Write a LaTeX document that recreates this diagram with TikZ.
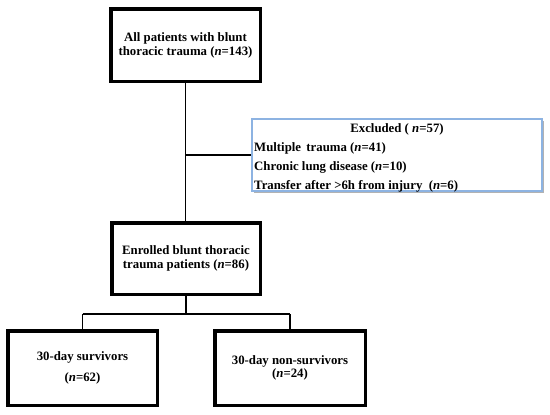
\documentclass[tikz,border=0pt]{standalone}
\usepackage{fontspec}
\setmainfont{Liberation Serif}
\usetikzlibrary{shadows}
\newcommand\myn{\textit{n}}
\definecolor{exblue}{RGB}{141,179,226}
\begin{document}
\begin{tikzpicture}[x=1pt,y=-1pt,
  txt/.style={font=\bfseries\fontsize{12.8}{14}\selectfont},
  box/.style={draw=black,line width=3.5pt,fill=white,align=center,inner sep=0pt,
    txt,drop shadow={shadow xshift=1.5pt,shadow yshift=-1.8pt,fill=black,opacity=0.35}},
  exbox/.style={draw=exblue,line width=2pt,fill=white,inner sep=0pt,
    drop shadow={shadow xshift=1.5pt,shadow yshift=-1.8pt,fill=black,opacity=0.3}},
  conn/.style={draw=black,line width=1.8pt}]
\useasboundingbox (0,0) rectangle (550,415);
\node[box,minimum width=149.5pt,minimum height=72.5pt] (top) at (185.5,45)
  {All patients with blunt\\thoracic trauma (\myn=143)};
\node[box,minimum width=148.5pt,minimum height=71.5pt] (enr) at (186,258.5)
  {Enrolled blunt thoracic\\trauma patients (\myn=86)};
\node[box,minimum width=149.5pt,minimum height=74.5pt] (surv) at (82.5,368)
  {30-day survivors\\[7pt](\myn=62)};
\node[box,minimum width=150.5pt,minimum height=74.5pt] (nons) at (290,368)
  {30-day non-survivors\\[-1pt](\myn=24)};
\node[exbox,minimum width=290pt,minimum height=72pt] (excl) at (397,155) {};
\node[txt,anchor=base] (extitle) at (397,132) {Excluded ( \myn=57)};
\node[txt,anchor=base west,inner sep=0pt] (ex1) at (254,151) {Multiple\, trauma (\myn=41)};
\node[txt,anchor=base west,inner sep=0pt] (ex2) at (254,170) {Chronic lung disease (\myn=10)};
\node[txt,anchor=base west,inner sep=0pt] (ex3) at (254,189) {Transfer after >6h from injury\ \ (\myn=6)};
\coordinate (br) at (top.south |- excl.west);
\coordinate (split) at (enr.south |- 0,314);
\coordinate (sl) at (surv.north |- split);
\coordinate (sr) at (nons.north |- split);
\path[conn] (top.south) -- (top.south |- enr.north);
\path[conn] (br) -- (excl.west);
\path[conn] (enr.south) -- (split);
\path[conn] (sl) -- (sr);
\path[conn] (sl) -- (surv.north);
\path[conn] (sr) -- (nons.north);
\end{tikzpicture}
\end{document}
